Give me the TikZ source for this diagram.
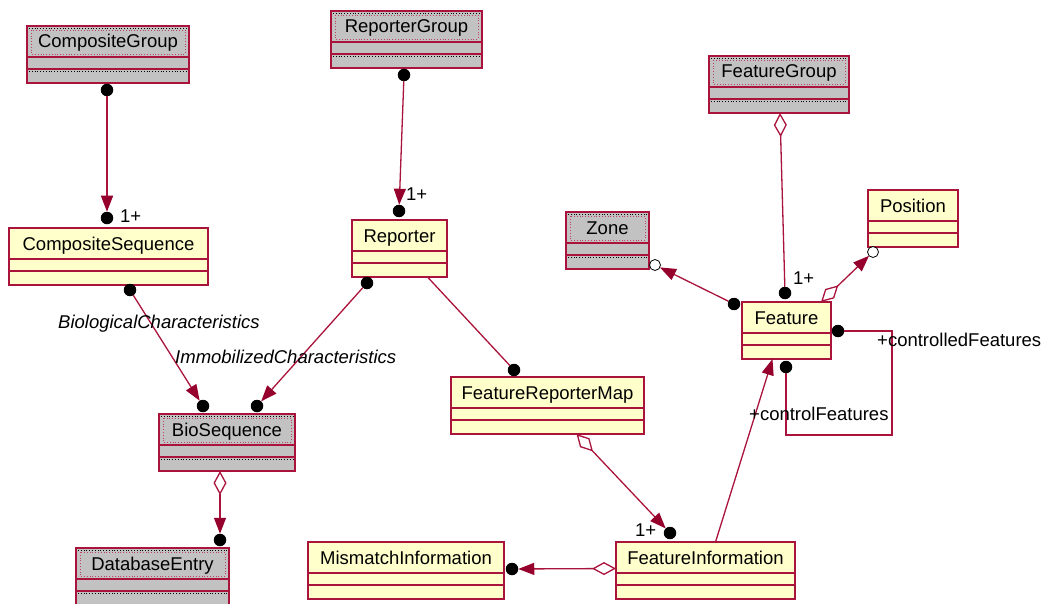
\documentclass[tikz,border=0pt]{standalone}
\usepackage{fontspec}
\setmainfont{Liberation Sans}
\usetikzlibrary{arrows.meta,calc}
\definecolor{bord}{RGB}{170,20,60}
\definecolor{arr}{RGB}{150,0,45}
\definecolor{yel}{RGB}{255,255,204}
\definecolor{gry}{RGB}{194,194,194}
\tikzset{
 cls/.style={draw=bord, line width=1.5pt, minimum height=57pt, inner sep=0pt, outer sep=0pt},
 ycls/.style={cls, fill=yel},
 gcls/.style={cls, fill=gry},
 sepl/.style={draw=bord, line width=1.5pt},
 ttl/.style={font=\fontsize{18.5}{21}\selectfont, inner sep=0pt},
 lab/.style={font=\fontsize{18.5}{21}\selectfont, inner sep=0pt, anchor=west},
 ilab/.style={lab, font=\fontsize{18.5}{21}\selectfont\itshape},
 conn/.style={draw=bord, line width=1.3pt},
 dot/.style={circle, fill=black, minimum size=12.5pt, inner sep=0pt, outer sep=0pt},
 odot/.style={circle, draw=black, fill=white, line width=0.8pt, minimum size=11pt, inner sep=0pt, outer sep=0pt},
 tipend/.style={-{Triangle[length=16pt,width=12pt,fill=arr,color=arr]}},
 diastart/.style={{Diamond[open,length=24pt,width=13pt]}-},
 diatip/.style={{Diamond[open,length=24pt,width=13pt]}-{Triangle[length=16pt,width=12pt,fill=arr,color=arr]}},
}
\newcommand\umlc[6]{%
 \node[#2, minimum width=#5pt, anchor=north west] (#1) at (#3,-#4) {};
 \node[ttl, anchor=base] (#1t) at ([yshift=-22pt]#1.north) {#6};
 \draw[sepl] ([yshift=-31pt]#1.north west) -- ([yshift=-31pt]#1.north east)
   ([yshift=-43pt]#1.north west) -- ([yshift=-43pt]#1.north east);
}
\newcommand\umlg[5]{%
 \umlc{#1}{gcls}{#2}{#3}{#4}{#5}
 \draw[bord!80, dotted, line width=0.8pt] ([xshift=4pt,yshift=-4pt]#1.north west) rectangle ([xshift=-4pt,yshift=-28pt]#1.north east);
 \draw[black, dotted, line width=0.8pt] ([xshift=2pt,yshift=-45pt]#1.north west) -- ([xshift=-2pt,yshift=-45pt]#1.north east);
 \draw[black, dotted, line width=0.8pt] ([xshift=2pt,yshift=-2pt]#1.north west) -- ([xshift=-2pt,yshift=-2pt]#1.north east);
}
\begin{document}
\begin{tikzpicture}[x=1pt,y=1pt]
\clip (0,0) rectangle (1046,-604);
\fill[white] (0,0) rectangle (1046,-604);
% classes
\umlg{cg}{27}{26}{162}{CompositeGroup}
\umlc{cs}{ycls}{9}{228}{199}{CompositeSequence}
\umlg{rg}{331}{11}{151}{ReporterGroup}
\umlc{rep}{ycls}{352}{220}{95}{Reporter}
\umlg{fg}{709}{56}{140}{FeatureGroup}
\umlg{zone}{566}{212}{83}{Zone}
\umlc{pos}{ycls}{868}{190}{90}{Position}
\umlc{feat}{ycls}{742}{302}{89}{Feature}
\umlc{frm}{ycls}{451}{377}{193}{FeatureReporterMap}
\umlc{fi}{ycls}{616}{542}{179}{FeatureInformation}
\umlc{mi}{ycls}{308}{542}{196}{MismatchInformation}
\umlg{bio}{159}{414}{136}{BioSequence}
\umlg{db}{76}{548}{153}{DatabaseEntry}
% end markers
\node[dot] (d1) at (107,-90) {};
\node[dot] (d2) at (107,-218) {};
\node[dot] (d3) at (404,-75) {};
\node[dot] (d4) at (399,-211) {};
\node[dot] (d5) at (130,-290) {};
\node[dot] (d6) at (203,-406) {};
\node[dot] (d7) at (367,-283) {};
\node[dot] (d8) at (257,-406) {};
\node[dot] (d9) at (220,-540) {};
\node[dot] (d10) at (514,-370) {};
\node[dot] (d11) at (670,-533) {};
\node[dot] (d12) at (512,-569) {};
\node[dot] (d13) at (785,-293) {};
\node[dot] (d14) at (734,-304) {};
\node[dot] (d15) at (838,-331) {};
\node[dot] (d16) at (786,-367) {};
\node[odot] (o1) at (655,-265) {};
\node[odot] (o2) at (873,-252) {};
% anchors on boxes
\coordinate (bioS) at ([xshift=-7pt]bio.south);
\coordinate (repS) at ([xshift=28pt]rep.south);
\coordinate (frmS) at ([xshift=29pt]frm.south);
\coordinate (fiW) at ([yshift=2pt]fi.west);
\coordinate (fiN) at ([xshift=10pt]fi.north);
\coordinate (featS) at ([xshift=-14pt]feat.south);
\coordinate (fgS) at ([xshift=1pt]fg.south);
\coordinate (featNE) at ([xshift=-10pt]feat.north east);
\coordinate (lc1) at (892,-331);
\coordinate (lc2) at (786,-435);
% connectors
\draw[conn, tipend] (d1) -- (d2);
\draw[conn, tipend] (d3) -- (d4);
\draw[conn, tipend] (d5) -- (d6);
\draw[conn, tipend] (d7) -- (d8);
\draw[conn, diatip] (bioS) -- (d9);
\draw[conn] (repS) -- (d10);
\draw[conn, diatip] (frmS) -- (d11);
\draw[conn, diatip] (fiW) -- (d12);
\draw[conn, tipend] (fiN) -- (featS);
\draw[conn, diastart] (fgS) -- (d13);
\draw[conn, tipend] (d14) -- (o1);
\draw[conn, diatip] (featNE) -- (o2);
\draw[conn] (d15) -- (lc1) |- (lc2) -- (d16);
% labels
\node[lab] (m1) at (120,-216) {1+};
\node[lab] (m2) at (406,-194) {1+};
\node[lab] (m3) at (793,-278) {1+};
\node[lab] (m4) at (635,-530) {1+};
\node[ilab] (r1) at (58,-324) {BiologicalCharacteristics};
\node[ilab] (r2) at (175,-357) {ImmobilizedCharacteristics};
\node[lab] (r3) at (877,-340) {+controlledFeatures};
\node[lab] (r4) at (749,-414) {+controlFeatures};
\end{tikzpicture}
\end{document}
